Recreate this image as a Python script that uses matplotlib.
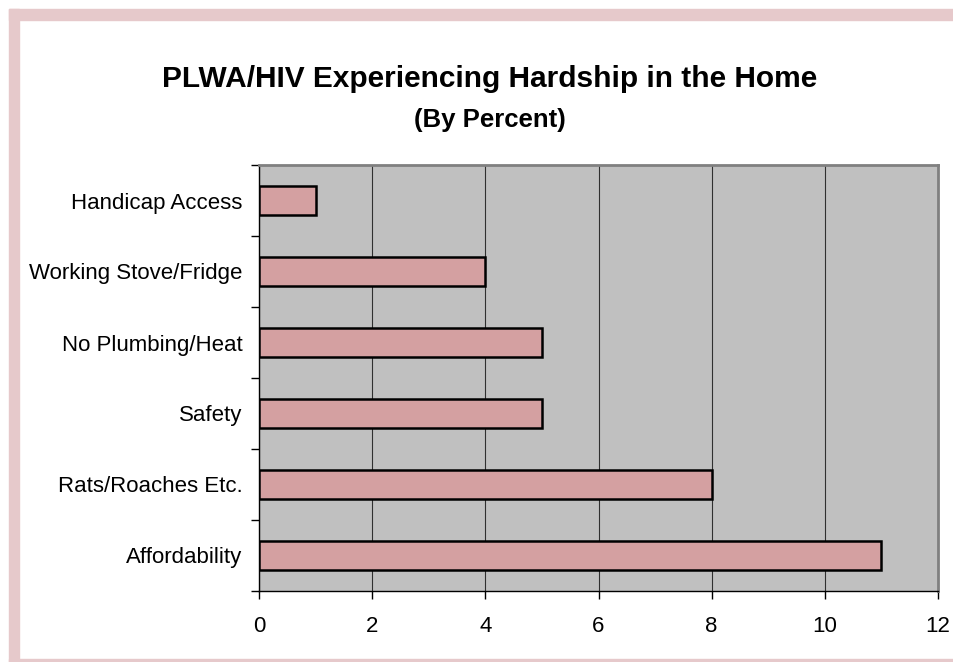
import matplotlib.pyplot as plt
from matplotlib.patches import Rectangle

categories = ["Affordability", "Rats/Roaches Etc.", "Safety",
              "No Plumbing/Heat", "Working Stove/Fridge", "Handicap Access"]
values = [11, 8, 5, 5, 4, 1]
x_ticks = [0, 2, 4, 6, 8, 10, 12]


def main():
    plt.rcParams["font.family"] = ["Liberation Sans", "DejaVu Sans"]
    W, H = 954, 662
    fig = plt.figure(figsize=(W / 100, H / 100), dpi=100)
    fig.patch.set_facecolor("white")

    # pink frame around the chart (right side is cut off)
    frame = "#E6C9CB"
    fig.patches.append(Rectangle((9 / W, 0), 10 / W, 1 - 9 / H,
                                 transform=fig.transFigure, color=frame, zorder=0))
    fig.patches.append(Rectangle((9 / W, 1 - 20 / H), 1, 11 / H,
                                 transform=fig.transFigure, color=frame, zorder=0))
    fig.patches.append(Rectangle((9 / W, 0), 1, 3 / H,
                                 transform=fig.transFigure, color=frame, zorder=0))

    ax = fig.add_axes([259 / W, 1 - 591 / H, (938 - 259) / W, (591 - 165) / H])
    ax.set_facecolor("#C0C0C0")

    ypos = range(len(categories))
    ax.barh(ypos, values, height=0.4, color="#D4A0A1", edgecolor="black",
            linewidth=1.8, zorder=3)

    ax.set_xlim(0, 12)
    ax.set_ylim(-0.5, len(categories) - 0.5)
    ax.set_xticks(x_ticks)
    ax.set_xticklabels([str(t) for t in x_ticks], fontsize=16)
    ax.set_yticks(list(ypos))
    ax.set_yticklabels(categories, fontsize=16)
    ax.set_yticks([i - 0.5 for i in range(len(categories) + 1)], minor=True)
    ax.tick_params(axis="y", which="major", length=0, pad=12)
    ax.tick_params(axis="y", which="minor", length=6, width=1, direction="out")
    ax.tick_params(axis="x", length=6, width=1, direction="out", pad=12)

    ax.grid(axis="x", color="#303030", linewidth=0.8, zorder=1)
    for side in ["top", "right"]:
        ax.spines[side].set_color("#808080")
        ax.spines[side].set_linewidth(2)
    for side in ["left", "bottom"]:
        ax.spines[side].set_color("black")
        ax.spines[side].set_linewidth(1)

    fig.text(490 / W, 1 - 87 / H, "PLWA/HIV Experiencing Hardship in the Home",
             ha="center", va="baseline", fontsize=21.5, fontweight="bold")
    fig.text(490 / W, 1 - 127 / H, "(By Percent)",
             ha="center", va="baseline", fontsize=18.5, fontweight="bold")

    fig.savefig("out.png", dpi=100)


if __name__ == "__main__":
    main()
